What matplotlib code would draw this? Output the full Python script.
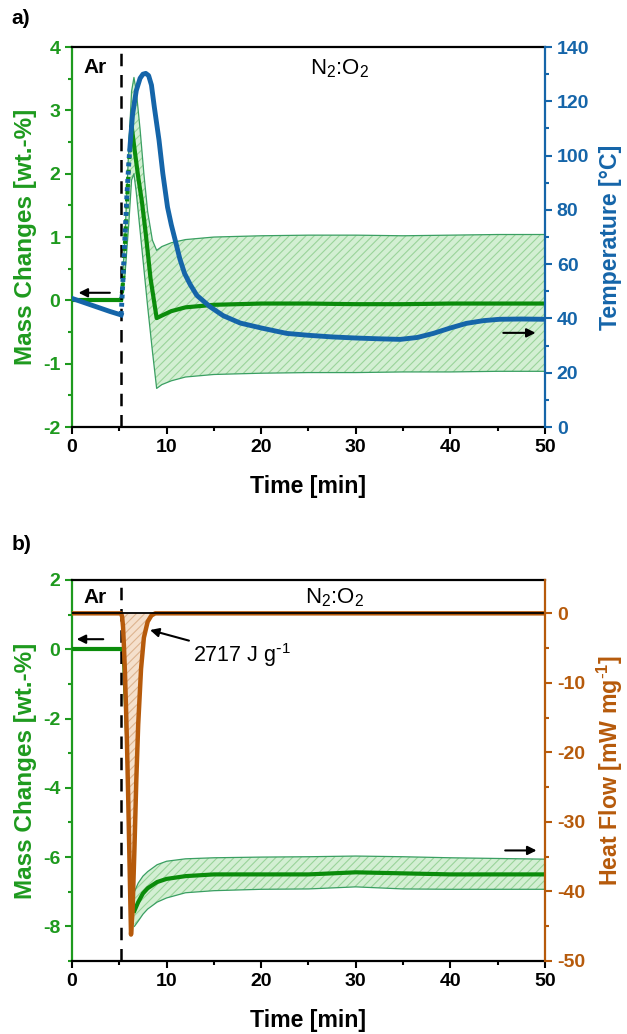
import numpy as np
import matplotlib
matplotlib.use("Agg")
import matplotlib.pyplot as plt
from matplotlib.ticker import MultipleLocator

plt.rcParams['font.family'] = ['Liberation Sans', 'DejaVu Sans']
plt.rcParams['mathtext.default'] = 'regular'
plt.rcParams['axes.unicode_minus'] = False
plt.rcParams['hatch.linewidth'] = 0.8

GREEN_AX = '#1e9a1e'
GREEN = '#0b8c0b'
GREEN_EDGE = '#3a9f62'
GREEN_FILL = '#d3efd3'
GREEN_HATCH = '#9ad49a'
BLUE = '#1565a9'
ORANGE = '#b65a0b'
TAN_FILL = '#f5e0cc'
TAN_HATCH = '#ddb48f'

# ---- panel a) data ----
t_mass_a = [0, 5.2, 5.4, 5.6, 5.8, 6.0, 6.2, 6.3, 6.6, 7.0, 7.4, 7.8, 8.3, 8.95,
            9.5, 10.5, 12, 15, 20, 25, 30, 35, 40, 45, 50]
mass_a = [0, 0, 0.3, 0.9, 1.5, 2.1, 2.55, 2.76, 2.4, 1.95, 1.55, 1.05, 0.35, -0.28,
          -0.24, -0.17, -0.11, -0.07, -0.05, -0.05, -0.06, -0.06, -0.05, -0.05, -0.05]

t_band_a = [5.2, 5.6, 6.0, 6.3, 6.55, 6.8, 7.2, 7.6, 8.0, 8.5, 8.95, 9.5, 10.5, 12,
            15, 20, 25, 30, 35, 40, 45, 50]
upper_a = [0, 1.0, 2.4, 3.3, 3.52, 3.3, 2.7, 2.0, 1.4, 0.95, 0.79, 0.85, 0.91, 0.96,
           1.0, 1.02, 1.03, 1.03, 1.02, 1.03, 1.04, 1.04]
lower_a = [0, 0.4, 1.2, 1.9, 2.0, 1.7, 1.1, 0.5, -0.1, -0.8, -1.39, -1.33, -1.27, -1.21,
           -1.17, -1.15, -1.14, -1.14, -1.13, -1.13, -1.12, -1.12]

t_temp = [0, 2, 4, 5.2, 5.4, 5.6, 5.8, 6.0, 6.1, 6.4, 6.8, 7.2, 7.5, 7.8, 8.1, 8.4,
          8.7, 9.2, 9.6, 10.1, 10.5, 10.9, 11.4, 11.9, 12.5, 13.2, 14.6, 16.0, 17.8, 20,
          22.7, 25, 27.5, 30, 32.5, 34.7, 36.5, 38.2, 40, 41.7, 43.5, 45.2, 47.5, 50]
temp = [47.4, 45.0, 42.6, 41.3, 55, 70, 85, 97, 102, 115, 124, 128.5, 130, 130.3,
        129.5, 126, 118, 105.7, 93.5, 81, 74.5, 69, 62, 56.6, 52.5, 48.5, 44.3, 41.0,
        38.3, 36.5, 34.5, 33.8, 33.2, 32.8, 32.5, 32.3, 33.0, 34.5, 36.5, 38.2, 39.2,
        39.7, 39.8, 39.7]

# ---- panel b) data ----
t_mass_b = [0, 5.2, 5.4, 5.6, 5.8, 6.0, 6.2, 6.4, 6.6, 7.0, 7.5, 8.0, 9.0, 10, 12,
            15, 20, 25, 30, 35, 40, 45, 50]
mass_b = [0, 0, -0.5, -1.8, -3.3, -4.8, -6.0, -7.0, -7.55, -7.3, -7.05, -6.9, -6.72,
          -6.63, -6.55, -6.5, -6.5, -6.5, -6.44, -6.47, -6.5, -6.5, -6.5]

t_band_b = [6.6, 7.0, 7.5, 8.0, 9.0, 10, 12, 15, 20, 25, 30, 35, 40, 45, 50]
upper_b = [-7.0, -6.75, -6.55, -6.42, -6.22, -6.12, -6.05, -6.02, -6.0, -5.99, -5.97,
           -5.99, -6.02, -6.04, -6.06]
lower_b = [-8.0, -7.85, -7.65, -7.5, -7.3, -7.18, -7.03, -6.97, -6.93, -6.92, -6.86,
           -6.92, -6.93, -6.93, -6.93]

t_hf = [0, 5.2, 5.3, 5.4, 5.5, 5.6, 5.7, 5.8, 5.95, 6.1, 6.24, 6.4, 6.6, 6.8, 7.0,
        7.3, 7.6, 8.0, 8.4, 8.8, 10, 20, 30, 40, 50]
heat_flow = [0, 0, -0.5, -2, -5, -8.5, -13, -18, -27, -37, -46.2, -43, -34, -24, -16,
             -8, -3.5, -1.2, -0.3, 0, 0, 0, 0, 0, 0]

gas_switch = 5.2
peak_label = r'2717 J g$^{\text{-}1}$'

TICK_FS = 14
LABEL_FS = 16.7


def style_axes(ax, ax2, left_color, right_color, ylabel, ylabel2):
    for a in (ax, ax2):
        a.tick_params(which='both', direction='out', width=1.5,
                      labelsize=TICK_FS)
        a.tick_params(which='major', length=5)
        a.tick_params(which='minor', length=3)
        for lab in a.get_xticklabels() + a.get_yticklabels():
            lab.set_fontweight('bold')
    ax.spines['right'].set_visible(False)
    ax2.spines['left'].set_visible(False)
    ax2.spines['top'].set_visible(False)
    ax2.spines['bottom'].set_visible(False)
    for s in ['top', 'bottom']:
        ax.spines[s].set_linewidth(1.6)
        ax.spines[s].set_color('black')
    ax.spines['left'].set_linewidth(1.6)
    ax.spines['left'].set_color(left_color)
    ax2.spines['right'].set_linewidth(1.6)
    ax2.spines['right'].set_color(right_color)
    ax.tick_params(axis='y', which='both', colors=left_color)
    ax2.tick_params(axis='y', which='both', colors=right_color)
    ax.tick_params(axis='x', which='both', top=False)
    ax.xaxis.set_major_locator(MultipleLocator(10))
    ax.xaxis.set_minor_locator(MultipleLocator(5))
    ax.set_xlim(0, 50)
    ax.set_xlabel('Time [min]', fontsize=LABEL_FS, fontweight='bold', labelpad=14)
    ax.set_ylabel(ylabel, fontsize=17.5, fontweight='bold', color=left_color, labelpad=4)
    ax2.set_ylabel(ylabel2, fontsize=LABEL_FS, fontweight='bold', color=right_color, labelpad=7)


def band(ax, t, lo, hi):
    ax.fill_between(t, lo, hi, facecolor=GREEN_FILL, edgecolor='none', zorder=1)
    ax.fill_between(t, lo, hi, facecolor='none', edgecolor=GREEN_HATCH, hatch='////',
                    linewidth=0, zorder=1)
    ax.plot(t, lo, color=GREEN_EDGE, lw=0.9, zorder=2)
    ax.plot(t, hi, color=GREEN_EDGE, lw=0.9, zorder=2)


fig = plt.figure(figsize=(6.27, 10.34), dpi=100)

# ================= a) =================
ax1 = fig.add_axes([0.1148, 0.5870, 0.7544, 0.3675])
ax2 = ax1.twinx()

band(ax1, t_band_a, lower_a, upper_a)
tm = np.array(t_mass_a)
ma = np.array(mass_a)
pre = tm <= gas_switch
dot = (tm >= gas_switch) & (tm <= 6.2)
post = tm >= 6.2
ax1.plot(tm[pre], ma[pre], color=GREEN, lw=3, zorder=3)
ax1.plot(tm[dot], ma[dot], color=GREEN, lw=3, ls=(0, (0.8, 0.9)), zorder=3)
ax1.plot(tm[post], ma[post], color=GREEN, lw=3, zorder=3, solid_capstyle='round')

tt = np.array(t_temp)
tp = np.array(temp)
pre = tt <= gas_switch
dot = (tt >= gas_switch) & (tt <= 6.1)
post = tt >= 6.1
ax2.plot(tt[pre], tp[pre], color=BLUE, lw=3.5)
ax2.plot(tt[dot], tp[dot], color=BLUE, lw=3.5, ls=(0, (0.8, 0.9)))
ax2.plot(tt[post], tp[post], color=BLUE, lw=3.5, solid_capstyle='round')

ax1.axvline(gas_switch, color='black', lw=1.8, ls=(0, (5, 3.5)), zorder=4)

ax1.set_ylim(-2, 4)
ax1.yaxis.set_major_locator(MultipleLocator(1))
ax1.yaxis.set_minor_locator(MultipleLocator(0.5))
ax2.set_ylim(0, 140)
ax2.yaxis.set_major_locator(MultipleLocator(20))
ax2.yaxis.set_minor_locator(MultipleLocator(10))
style_axes(ax1, ax2, GREEN_AX, BLUE, 'Mass Changes [wt.-%]', 'Temperature [°C]')

ax1.text(1.2, 3.68, 'Ar', fontsize=15, fontweight='bold', va='center')
ax1.text(28.3, 3.66, 'N$_2$:O$_2$', fontsize=16, ha='center', va='center')
ax1.annotate('', xy=(0.4, 0.12), xytext=(4.3, 0.12),
             arrowprops=dict(arrowstyle='-|>', color='black', lw=1.5, mutation_scale=13))
ax2.annotate('', xy=(49.3, 34.7), xytext=(45.3, 34.7),
             arrowprops=dict(arrowstyle='-|>', color='black', lw=1.5, mutation_scale=13))

fig.text(0.018, 0.982, 'a)', fontsize=15, fontweight='bold', va='center')

# ================= b) =================
bx1 = fig.add_axes([0.1148, 0.0706, 0.7544, 0.3685])
bx2 = bx1.twinx()

band(bx1, t_band_b, lower_b, upper_b)
tb = np.array(t_mass_b)
mb = np.array(mass_b)
pre = tb <= gas_switch
thin = (tb >= gas_switch) & (tb <= 6.6)
post = tb >= 6.6
bx1.plot(tb[pre], mb[pre], color=GREEN, lw=3, zorder=3)
bx1.plot(tb[thin], mb[thin], color=GREEN, lw=1.2, zorder=3)
bx1.plot(tb[post], mb[post], color=GREEN, lw=3, zorder=3)

th = np.array(t_hf)
hf = np.array(heat_flow)
peak = (th >= gas_switch) & (th <= 8.8)
bx2.fill_between(th[peak], hf[peak], 0, facecolor=TAN_FILL, edgecolor='none')
bx2.fill_between(th[peak], hf[peak], 0, facecolor='none', edgecolor=TAN_HATCH,
                 hatch='////', linewidth=0)
bx2.plot(th, hf, color=ORANGE, lw=3.2)
bx2.axhline(0, color='black', lw=1.3)

bx1.axvline(gas_switch, color='black', lw=1.8, ls=(0, (5, 3.5)), zorder=4)

bx1.set_ylim(-9, 2)
bx1.yaxis.set_major_locator(MultipleLocator(2))
bx1.yaxis.set_minor_locator(MultipleLocator(1))
bx2.set_ylim(-50, 4.8)
bx2.yaxis.set_major_locator(MultipleLocator(10))
bx2.yaxis.set_minor_locator(MultipleLocator(5))
style_axes(bx1, bx2, GREEN_AX, ORANGE, 'Mass Changes [wt.-%]', r'Heat Flow [mW mg$^{\text{-}1}$]')

bx2.text(1.2, 2.3, 'Ar', fontsize=15, fontweight='bold', va='center')
bx2.text(27.8, 2.3, 'N$_2$:O$_2$', fontsize=16, ha='center', va='center')
bx1.annotate('', xy=(0.2, 0.29), xytext=(3.6, 0.29),
             arrowprops=dict(arrowstyle='-|>', color='black', lw=1.5, mutation_scale=13))
bx2.annotate('', xy=(49.4, -34.1), xytext=(45.5, -34.1),
             arrowprops=dict(arrowstyle='-|>', color='black', lw=1.5, mutation_scale=13))
bx2.annotate(peak_label, xy=(8.25, -2.4), xytext=(12.8, -6.0), fontsize=15.5,
             va='center', ha='left',
             arrowprops=dict(arrowstyle='-|>', color='black', lw=1.5, mutation_scale=13,
                             shrinkA=1, shrinkB=0))

fig.text(0.018, 0.473, 'b)', fontsize=15, fontweight='bold', va='center')

fig.savefig('out.png', dpi=100)
